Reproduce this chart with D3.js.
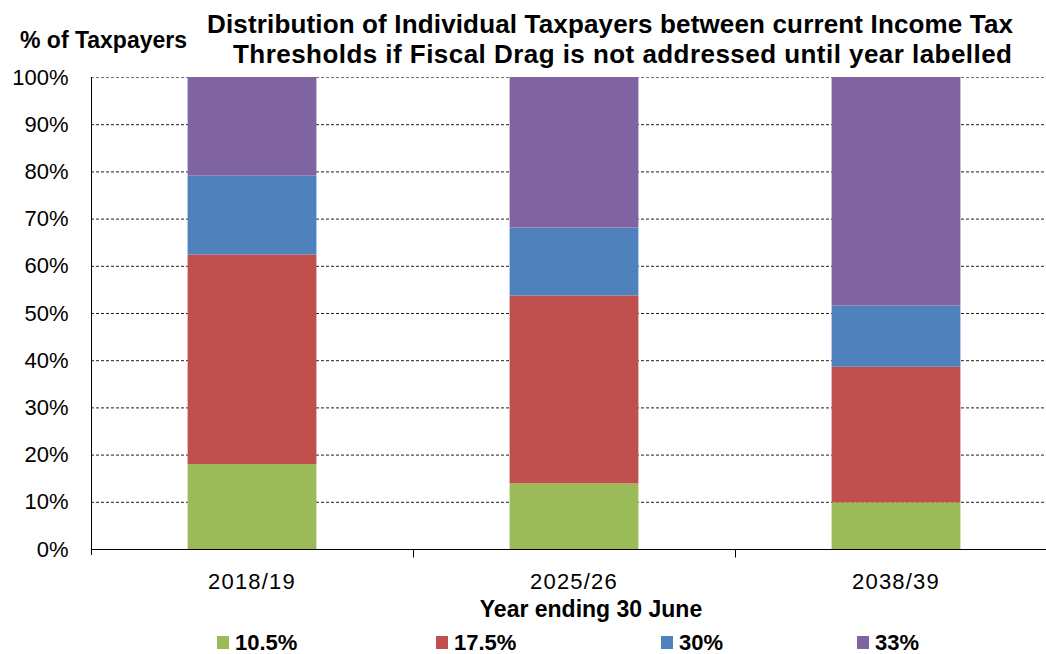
<!DOCTYPE html>
<html>
<head>
<meta charset="utf-8">
<script src="https://cdn.jsdelivr.net/npm/d3@7/dist/d3.min.js"></script>
<style>
  html, body { margin: 0; padding: 0; background: #fff; overflow: hidden; }
  svg { display: block; font-family: "Liberation Sans", Arial, sans-serif; }
</style>
</head>
<body>
<svg id="chart" width="1046" height="654"></svg>
<script>
// ---- Data ----
const categories = ["2018/19", "2025/26", "2038/39"];
const seriesNames = ["10.5%", "17.5%", "30%", "33%"];
const rate105 = [18.0, 13.9, 9.9];
const rate175 = [44.4, 39.8, 28.7];
const rate30  = [16.7, 14.4, 13.0];
const rate33  = [20.9, 31.9, 48.4];
const yTicks = [0, 10, 20, 30, 40, 50, 60, 70, 80, 90, 100];
const titleLines = ["Distribution of Individual Taxpayers between current Income Tax",
                    "Thresholds if Fiscal Drag is not addressed until year labelled"];
const colors = ["#9BBB59", "#C0504D", "#4F81BD", "#8064A2"];

const svg = d3.select("#chart");
const plotL = 91, plotR = 1057, plotT = 77, plotB = 549;

const x = d3.scaleBand().domain(categories).range([plotL, plotR]).paddingInner(0.6).paddingOuter(0.3);
const y = d3.scaleLinear().domain([0, 100]).range([plotB, plotT]);

// table for stack
const table = categories.map((c, i) => ({
  cat: c, "10.5%": rate105[i], "17.5%": rate175[i], "30%": rate30[i], "33%": rate33[i]
}));
const stacked = d3.stack().keys(seriesNames)(table);

// gridlines
svg.append("g").selectAll("line").data(yTicks.filter(d => d > 0)).join("line")
  .attr("x1", plotL).attr("x2", 1046)
  .attr("y1", d => y(d) + 0.5).attr("y2", d => y(d) + 0.5)
  .attr("stroke", d => d === 100 ? "#777" : "#222")
  .attr("stroke-width", 1)
  .attr("stroke-dasharray", "3,2");

// bars
svg.append("g").selectAll("g").data(stacked).join("g")
  .attr("fill", (d, i) => colors[i])
  .selectAll("rect").data(d => d).join("rect")
  .attr("x", d => x(d.data.cat))
  .attr("width", x.bandwidth())
  .attr("y", d => y(d[1]))
  .attr("height", d => y(d[0]) - y(d[1]));

// y axis
const yAxis = d3.axisLeft(y).tickValues(yTicks).tickFormat(d => d + "%").tickSize(0).tickPadding(23);
const gy = svg.append("g").attr("transform", `translate(${plotL + 0.5},0)`).call(yAxis);
gy.select(".domain").attr("stroke", "#000").attr("d", `M0,${plotT}V${plotB + 6}`);
gy.selectAll("text").attr("font-size", 22).attr("fill", "#000")
  .attr("font-family", "'Liberation Sans', Arial, sans-serif");

// x axis
const xAxis = d3.axisBottom(x).tickSize(0).tickPadding(24);
const gx = svg.append("g").attr("transform", `translate(0,${plotB + 0.5})`).call(xAxis);
gx.select(".domain").attr("stroke", "#000").attr("d", `M${plotL},0H1046`);
gx.selectAll("text").attr("font-size", 22).attr("fill", "#000").attr("letter-spacing", 1.2)
  .attr("font-family", "'Liberation Sans', Arial, sans-serif");
// category separator ticks
const seps = categories.slice(1).map(c => x(c) - x.step() * x.paddingInner() / 2);
gx.append("g").selectAll("line").data(seps).join("line")
  .attr("x1", d => Math.round(d) + 0.5).attr("x2", d => Math.round(d) + 0.5)
  .attr("y1", 0).attr("y2", 8).attr("stroke", "#000");

// axis title
svg.append("text").attr("x", 591).attr("y", 617).attr("text-anchor", "middle")
  .attr("font-size", 23).attr("font-weight", "bold").text("Year ending 30 June");

// y title
svg.append("text").attr("x", 20).attr("y", 48)
  .attr("font-size", 23).attr("font-weight", "bold").text("% of Taxpayers");

// chart title
svg.append("text").attr("x", 207).attr("y", 33)
  .attr("font-size", 26).attr("font-weight", "bold")
  .attr("textLength", 806).attr("lengthAdjust", "spacing").text(titleLines[0]);
svg.append("text").attr("x", 233).attr("y", 63)
  .attr("font-size", 26).attr("font-weight", "bold")
  .attr("textLength", 779).attr("lengthAdjust", "spacing").text(titleLines[1]);

// legend
const legendX = [217, 436, 661, 857];
const lg = svg.append("g").selectAll("g").data(seriesNames).join("g")
  .attr("transform", (d, i) => `translate(${legendX[i]},0)`);
lg.append("rect").attr("x", 0).attr("y", 636).attr("width", 12).attr("height", 13)
  .attr("fill", (d, i) => colors[i]);
lg.append("text").attr("x", 18).attr("y", 650).attr("font-size", 22).attr("font-weight", "bold")
  .text(d => d);
</script>
</body>
</html>
